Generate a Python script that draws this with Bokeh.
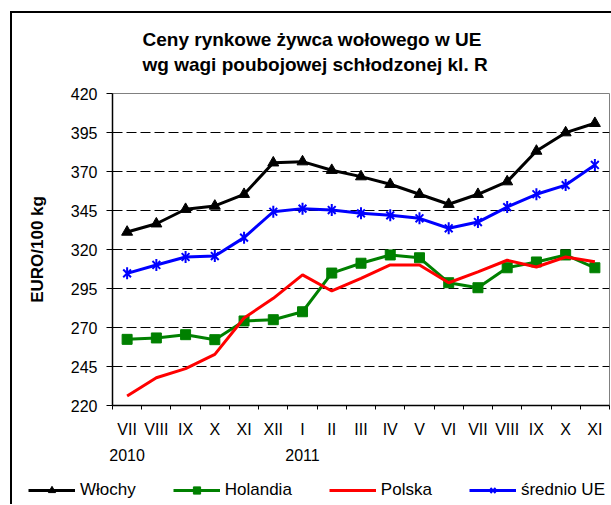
from bokeh.plotting import figure
from bokeh.models import (FactorRange, Range1d, LinearAxis, FixedTicker,
                          Legend, LegendItem, Title)
from bokeh.embed import file_html
from bokeh.resources import INLINE
import math

# ---- data -------------------------------------------------------------
months = ["VII", "VIII", "IX", "X", "XI", "XII", "I", "II", "III", "IV", "V", "VI",
          "VII", "VIII", "IX", "X", "XI"]
years = ["2010"] * 6 + ["2011"] * 11
series_names = ["Włochy", "Holandia", "Polska", "średnio UE"]
wlochy = [331.2, 336.5, 345.8, 347.9, 355.4, 375.6, 376.3, 370.8, 366.7, 361.8, 355.4,
          349.0, 355.4, 363.5, 383.1, 394.9, 400.9]
holandia = [262.4, 263.3, 265.4, 262.2, 274.2, 275.0, 280.1, 304.9, 311.2, 316.5, 314.7,
            298.7, 295.5, 308.3, 312.0, 316.5, 308.3]
polska = [226.1, 237.8, 243.6, 252.8, 276.1, 288.7, 303.7, 293.4, 301.5, 310.1, 310.1,
          298.7, 305.6, 313.1, 308.8, 315.2, 312.2]
srednio = [304.7, 310.1, 315.2, 315.8, 327.6, 344.2, 346.2, 345.3, 343.2, 341.9, 340.0,
           333.6, 337.6, 347.2, 355.4, 361.3, 374.2]
y_ticks = [220, 245, 270, 295, 320, 345, 370, 395, 420]
title_lines = ["Ceny rynkowe żywca wołowego w UE", "wg wagi poubojowej schłodzonej kl. R"]
y_label = "EURO/100 kg"

cats = [f"{m} {y}" for m, y in zip(months, years)]
FONT = "Liberation Sans"

p = figure(width=611, height=470, x_range=FactorRange(*cats),
           y_range=Range1d(y_ticks[0], y_ticks[-1]),
           output_backend="svg", toolbar_location=None, x_axis_location=None,
           min_border_left=112, min_border_right=2, min_border_top=93, min_border_bottom=65)
p.styles = {"box-shadow": "inset 10px 11px 0 0 white, inset 12px 13px 0 0 black"}
p.background_fill_color = "white"
p.border_fill_alpha = 0
p.outline_line_color = "#808080"
p.outline_line_width = 1

# category-edge ticks (synthetic coordinates of the factor range)
n = len(cats)
tick_axis = LinearAxis(ticker=FixedTicker(ticks=list(range(n + 1))),
                       major_label_text_font_size="0px", major_label_standoff=0,
                       major_tick_out=4, major_tick_in=0, minor_tick_line_color=None,
                       axis_line_color="black", axis_line_width=1.5,
                       major_tick_line_color="black", major_tick_line_width=1)
p.add_layout(tick_axis, "below")

centers = [i + 0.5 for i in range(n)]
month_axis = LinearAxis(ticker=FixedTicker(ticks=centers),
                        major_label_overrides={c: m for c, m in zip(centers, months)},
                        axis_line_color=None, major_tick_line_color=None, minor_tick_line_color=None,
                        major_tick_out=0, major_tick_in=0, major_label_standoff=11,
                        major_label_text_font=FONT, major_label_text_font_size="16px",
                        major_label_text_color="black")
p.add_layout(month_axis, "below")

year_over = {}
seen = set()
for c, y in zip(centers, years):
    year_over[c] = y if y not in seen else " "
    seen.add(y)
year_axis = LinearAxis(ticker=FixedTicker(ticks=centers),
                       major_label_overrides=year_over,
                       axis_line_color=None, major_tick_line_color=None, minor_tick_line_color=None,
                       major_tick_out=0, major_tick_in=0, major_label_standoff=6,
                       major_label_text_font=FONT, major_label_text_font_size="16px",
                       major_label_text_color="black")
p.add_layout(year_axis, "below")

# y axis
yax = p.yaxis[0]
yax.ticker = FixedTicker(ticks=y_ticks)
yax.major_tick_out = 6
yax.major_tick_in = 0
yax.minor_tick_line_color = None
yax.axis_line_color = "black"
yax.axis_line_width = 1.5
yax.major_label_standoff = 9
yax.major_label_text_font = FONT
yax.major_label_text_font_size = "16px"
yax.major_label_text_color = "black"
yax.axis_label = y_label
yax.axis_label_text_font = FONT
yax.axis_label_text_font_size = "17px"
yax.axis_label_text_font_style = "bold"
yax.axis_label_text_color = "black"
yax.axis_label_standoff = 21

p.xgrid.grid_line_color = None
p.ygrid.ticker = FixedTicker(ticks=y_ticks[1:-1])
p.ygrid.grid_line_color = "black"
p.ygrid.grid_line_dash = "10 4"
p.ygrid.grid_line_width = 1

# title
p.add_layout(Title(text="\n".join(title_lines), align="left", offset=30, standoff=37,
                   text_font=FONT, text_font_size="19px", text_font_style="bold",
                   text_line_height=1.2, text_color="black"), "above")

# series
styles = [
    dict(color="black", marker="triangle", size=11),
    dict(color="#008000", marker="square", size=10),
    dict(color="#FF0000", marker=None, size=0),
    dict(color="#0000FF", marker="asterisk6", size=11),
]
series = [wlochy, holandia, polska, srednio]


def draw(fig, xs, ys, st):
    rs = [fig.line(xs, ys, line_color=st["color"], line_width=3)]
    if st["marker"] in ("triangle", "square"):
        rs.append(fig.scatter(xs, ys, marker=st["marker"], size=st["size"],
                              fill_color=st["color"], line_color=st["color"]))
    elif st["marker"] == "asterisk6":
        rs.append(fig.scatter(xs, ys, marker="x", size=st["size"], line_color=st["color"], line_width=2))
        rs.append(fig.scatter(xs, ys, marker="dash", size=st["size"] + 1, angle=math.pi / 2,
                              line_color=st["color"], line_width=2))
    return rs


for ys, st in zip(series, styles):
    draw(p, cats, ys, st)

# legend strip: own small figure; its copies of the series lie outside its y range
q = figure(width=611, height=34, x_range=FactorRange(*cats), y_range=Range1d(0, 1),
           output_backend="svg", toolbar_location=None, x_axis_location=None,
           y_axis_location=None, min_border=0)
q.styles = {"box-shadow": "inset 10px 0 0 0 white, inset 12px 0 0 0 black"}
q.grid.visible = False
q.outline_line_color = None
q.background_fill_alpha = 0
q.border_fill_alpha = 0
items = []
for nm, ys, st in zip(series_names, series, styles):
    st_leg = dict(st, size=max(st["size"] - 2, 0))
    items.append(LegendItem(label=nm, renderers=draw(q, cats, ys, st_leg)))
leg = Legend(items=items, location=(28, 4), orientation="horizontal", padding=0, margin=0,
             spacing=37, glyph_width=47, glyph_height=18, label_height=18, label_standoff=5,
             label_text_font=FONT, label_text_font_size="17px", label_text_color="black",
             border_line_color=None, background_fill_alpha=0)
q.add_layout(leg, "center")

open("out.html", "w").write(file_html([p, q], INLINE))
